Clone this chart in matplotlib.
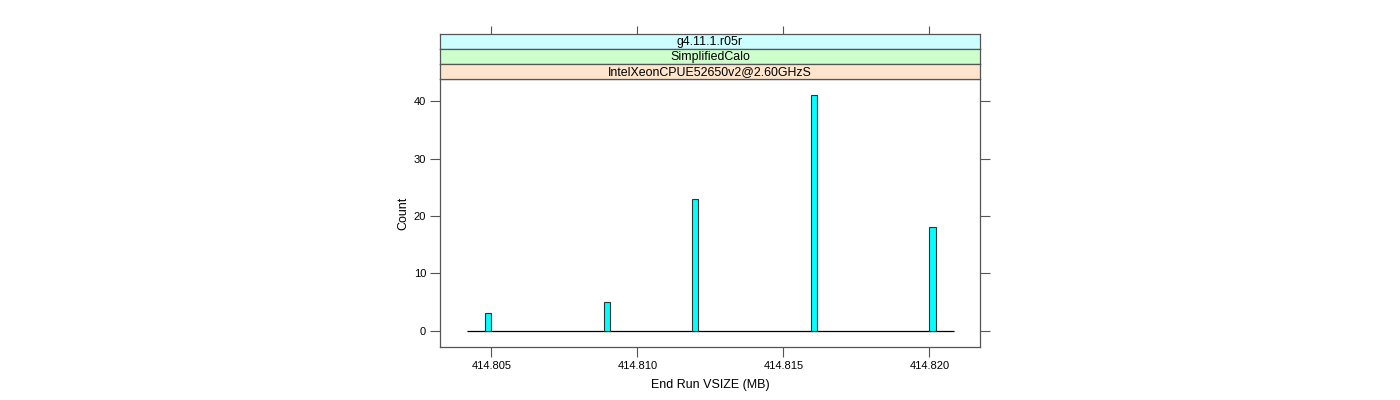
import matplotlib
matplotlib.use("Agg")
import matplotlib.pyplot as plt

plt.rcParams['font.family'] = ['Liberation Sans', 'DejaVu Sans']

# Data
bin_centers = [414.80488, 414.80896, 414.81198, 414.81604, 414.82010]
counts = [3, 5, 23, 41, 18]
bin_width = 0.00022
hist_range = (414.80418, 414.82084)
strip_labels = ["g4.11.1.r05r", "SimplifiedCalo", "IntelXeonCPUE52650v2@2.60GHzS"]
strip_colors = ["#CCFFFF", "#CCFFCC", "#FFE5CC"]
xticks = [414.805, 414.810, 414.815, 414.820]
xticklabels = ["414.805", "414.810", "414.815", "414.820"]
yticks = [0, 10, 20, 30, 40]

xlim = (414.80324, 414.82173)
ylim = (-2.87, 43.87)

W, H = 1400, 400
fig = plt.figure(figsize=(14, 4), dpi=100)

def fx(px):
    return px / W

def fy(py):
    return 1 - py / H

frame_col = "#555555"

left, right = 440, 980
ax = fig.add_axes([fx(left), fy(347), fx(right - left), fy(79) - fy(347)])
ax.bar(bin_centers, counts, width=bin_width, color="#00FFFF", edgecolor="#333333",
       linewidth=0.8, zorder=3)
ax.hlines(0, hist_range[0], hist_range[1], color="black", linewidth=0.9, zorder=2)
ax.set_xlim(*xlim)
ax.set_ylim(*ylim)
ax.set_xticks(xticks)
ax.set_xticklabels(xticklabels)
ax.set_yticks(yticks)
ax.tick_params(axis='both', direction='out', length=7, width=0.8, color=frame_col,
               labelsize=8, pad=3)
ax.tick_params(axis='y', right=True, labelright=False)
ax.tick_params(axis='x', top=False)
for sp in ax.spines.values():
    sp.set_color(frame_col)
    sp.set_linewidth(0.9)
ax.set_xlabel("End Run VSIZE (MB)", fontsize=9, labelpad=6)
ax.set_ylabel("Count", fontsize=9, labelpad=3)

# strips
strip_tops = [34, 49, 64]
for i, (lab, col) in enumerate(zip(strip_labels, strip_colors)):
    top = strip_tops[i]
    sax = fig.add_axes([fx(left), fy(top + 15), fx(right - left), fy(top) - fy(top + 15)])
    sax.set_facecolor(col)
    sax.set_xlim(*xlim)
    sax.set_ylim(0, 1)
    sax.text(0.5, 0.45, lab, transform=sax.transAxes, ha='center', va='center',
             fontsize=8.9)
    for sp in sax.spines.values():
        sp.set_color(frame_col)
        sp.set_linewidth(0.9)
    sax.set_yticks([])
    if i == 0:
        sax.set_xticks(xticks)
        sax.tick_params(axis='x', top=True, bottom=False, labeltop=False,
                        labelbottom=False, direction='out', length=6, width=0.8,
                        color=frame_col)
    else:
        sax.set_xticks([])

fig.savefig("out.png", dpi=100)
